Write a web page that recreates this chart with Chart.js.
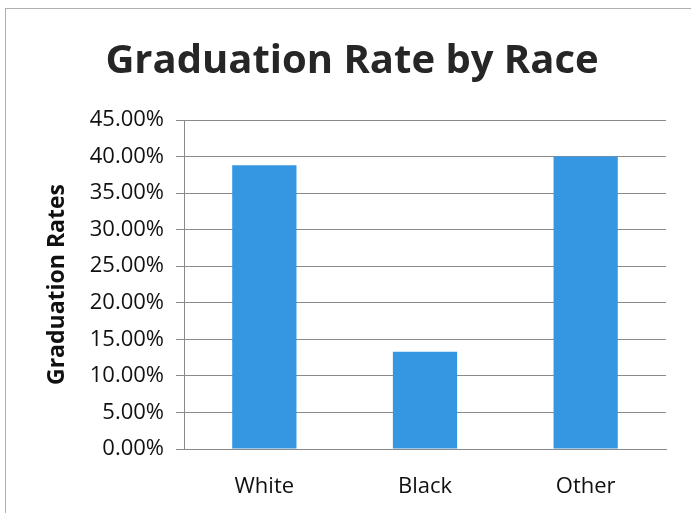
<!DOCTYPE html>
<html>
<head>
<meta charset="utf-8">
<script src="https://cdn.jsdelivr.net/npm/chart.js@4"></script>
<style>
  html, body { margin: 0; padding: 0; background: #fff; overflow: hidden; }
  #frame { position: absolute; left: 5px; top: 8px; width: 700px; height: 520px; border: 1px solid #b0b0b0; }
  #wrap { position: absolute; left: 0; top: 0; width: 691px; height: 513px; }
</style>
</head>
<body>
<div id="frame"></div>
<div id="wrap"><canvas id="chart"></canvas></div>
<script>
// chart data
const races = ["White", "Black", "Other"];
const gradRates = [38.8, 13.3, 40.0];
const yTicks = [0, 5, 10, 15, 20, 25, 30, 35, 40, 45];

const fontFamily = "'Open Sans', sans-serif";

const ctx = document.getElementById("chart").getContext("2d");
new Chart(ctx, {
  type: "bar",
  data: {
    labels: races,
    datasets: [{
      label: "Graduation Rates",
      data: gradRates,
      backgroundColor: "#3597e2",
      borderWidth: 0,
      barPercentage: 0.4,
      categoryPercentage: 1.0
    }]
  },
  options: {
    responsive: true,
    maintainAspectRatio: false,
    animation: false,
    layout: { padding: { left: 38, right: 25, top: 10, bottom: 0 } },
    plugins: {
      legend: { display: false },
      tooltip: { enabled: false },
      title: {
        display: true,
        text: "Graduation Rate by Race",
        color: "#262626",
        font: { family: fontFamily, size: 40, weight: "bold" },
        padding: { top: 28, bottom: 34 }
      }
    },
    scales: {
      x: {
        afterFit: (scale) => { scale.height = 64; },
        grid: { display: false, drawTicks: false },
        border: { color: "#8a8a8a", width: 1 },
        ticks: {
          color: "#111",
          font: { family: fontFamily, size: 22 },
          padding: 25
        }
      },
      y: {
        min: 0,
        max: 45,
        afterBuildTicks: (scale) => { scale.ticks = yTicks.map(v => ({ value: v })); },
        afterFit: (scale) => { scale.width = 146; },
        grid: {
          color: "#8a8a8a",
          lineWidth: 1,
          tickLength: 8,
          drawTicks: true
        },
        border: { color: "#8a8a8a", width: 1 },
        ticks: {
          color: "#111",
          font: { family: fontFamily, size: 22 },
          padding: 12,
          callback: (v) => v.toFixed(2) + "%"
        },
        title: {
          display: true,
          text: "Graduation Rates",
          color: "#111",
          font: { family: fontFamily, size: 23, weight: "bold" },
          padding: { top: 6, bottom: 0 }
        }
      }
    }
  }
});
</script>
</body>
</html>
